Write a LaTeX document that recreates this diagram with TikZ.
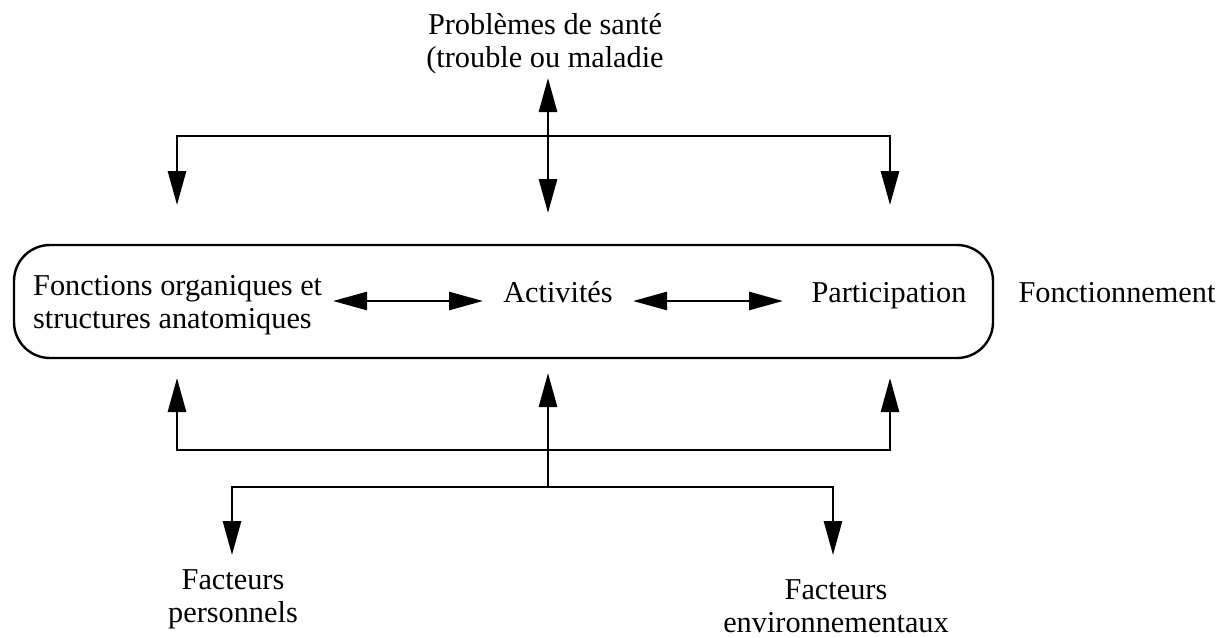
\documentclass[tikz,border=0pt]{standalone}
\usepackage{fontspec}
\setmainfont{Liberation Serif}
\usetikzlibrary{arrows.meta}
\tikzset{
  lbl/.style={font=\fontsize{30.3}{32.5}\selectfont, inner sep=0pt, anchor=base, align=center},
  tip/.style={-{Triangle[length=34pt,width=18pt]}, line width=2.8pt},
  dbl/.style={{Triangle[length=34pt,width=18pt]}-{Triangle[length=34pt,width=18pt]}, line width=2.8pt},
}
\begin{document}
\begin{tikzpicture}[x=1pt, y=-1pt]
  \useasboundingbox (0,0) rectangle (1220,637);
  % texts (base = last line)
  \node[lbl] (sante) at (545,67) {Probl\`emes de sant\'e\\(trouble ou maladie};
  \node[lbl, anchor=base west, align=left] (fonctions) at (33,328) {Fonctions organiques et\\structures anatomiques};
  \node[lbl] (activites) at (558,302) {Activit\'es};
  \node[lbl] (participation) at (889,302) {Participation};
  \node[lbl] (fonctionnement) at (1117,302) {Fonctionnement};
  \node[lbl] (personnels) at (233,622) {Facteurs\\personnels};
  \node[lbl] (environnement) at (836,632) {Facteurs\\environnementaux};
  % frame
  \node[draw, line width=2.4pt, rounded corners=36pt, minimum width=979pt, minimum height=113pt] (frame) at (503.5,301.5) {};
  % connectors
  \coordinate (sa) at (548,78);  \coordinate (sb) at (548,213);
  \coordinate (tl) at (177,205); \coordinate (tr) at (890,205);
  \coordinate (bl) at (177,378); \coordinate (br) at (890,378);
  \coordinate (bc) at (548,373); \coordinate (hub) at (548,487);
  \coordinate (pl) at (232,555); \coordinate (pr) at (833,555);
  \draw[dbl] (sa) -- (sb);
  \draw[dbl] (tl) -- (tl |- 0,136) -- (tr |- 0,136) -- (tr);
  \draw[dbl] (bl) -- (bl |- 0,450) -- (br |- 0,450) -- (br);
  \draw[tip] (hub) -- (bc);
  \draw[dbl] (pl) -- (pl |- hub) -- (pr |- hub) -- (pr);
  \coordinate (a1) at (333,301); \coordinate (a2) at (483,301);
  \coordinate (a3) at (633,301); \coordinate (a4) at (783,301);
  \draw[dbl] (a1) -- (a2);
  \draw[dbl] (a3) -- (a4);
\end{tikzpicture}
\end{document}
